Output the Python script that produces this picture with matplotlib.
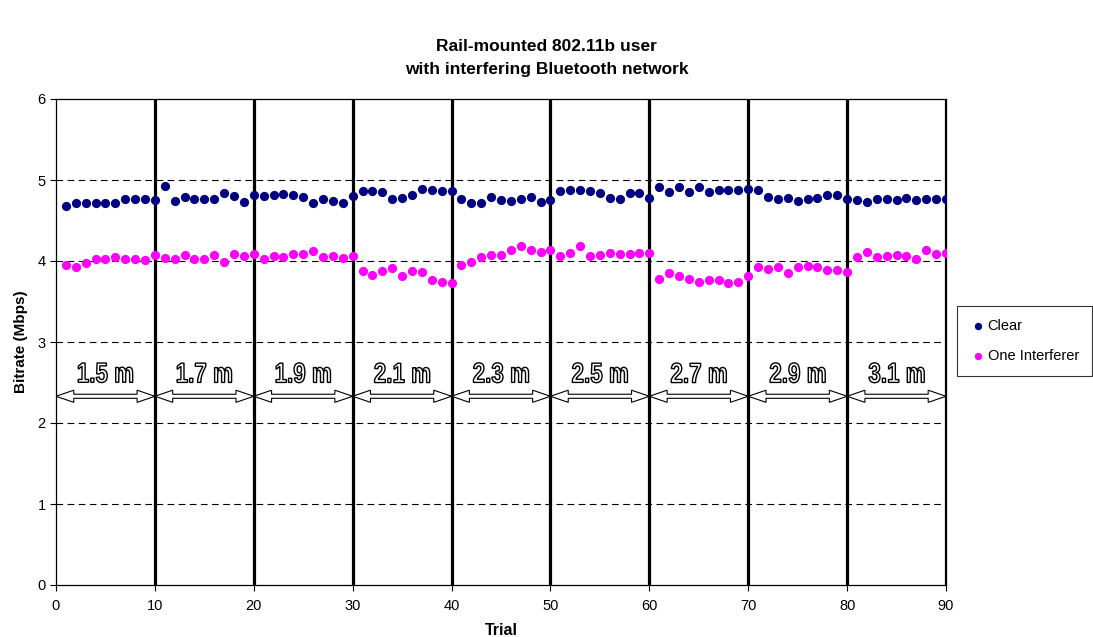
import matplotlib
matplotlib.use("Agg")
import matplotlib.pyplot as plt
import matplotlib.transforms as mtransforms
from matplotlib.patches import Polygon, PathPatch
from matplotlib.textpath import TextPath
from matplotlib.font_manager import FontProperties

plt.rcParams['font.family'] = ['Liberation Sans', 'DejaVu Sans']

trial = list(range(1, 91))

clear = [4.68, 4.71, 4.72, 4.72, 4.71, 4.72, 4.77, 4.76, 4.76, 4.75,
         4.92, 4.74, 4.79, 4.76, 4.76, 4.77, 4.84, 4.80, 4.73, 4.82,
         4.80, 4.81, 4.83, 4.82, 4.79, 4.72, 4.77, 4.74, 4.71, 4.80,
         4.86, 4.86, 4.85, 4.77, 4.78, 4.81, 4.89, 4.88, 4.86, 4.87,
         4.76, 4.71, 4.71, 4.79, 4.75, 4.74, 4.77, 4.79, 4.73, 4.75,
         4.87, 4.88, 4.88, 4.86, 4.84, 4.78, 4.77, 4.84, 4.84, 4.78,
         4.91, 4.85, 4.91, 4.85, 4.91, 4.85, 4.88, 4.88, 4.88, 4.89,
         4.88, 4.79, 4.77, 4.78, 4.74, 4.77, 4.78, 4.82, 4.81, 4.77,
         4.75, 4.73, 4.77, 4.77, 4.75, 4.78, 4.75, 4.77, 4.77, 4.77]

interferer = [3.95, 3.92, 3.98, 4.03, 4.02, 4.05, 4.02, 4.02, 4.01, 4.08,
              4.04, 4.02, 4.07, 4.02, 4.03, 4.07, 3.99, 4.09, 4.06, 4.09,
              4.03, 4.06, 4.05, 4.09, 4.09, 4.12, 4.05, 4.06, 4.04, 4.06,
              3.88, 3.83, 3.88, 3.91, 3.81, 3.88, 3.86, 3.77, 3.74, 3.73,
              3.95, 3.99, 4.05, 4.08, 4.07, 4.13, 4.19, 4.13, 4.11, 4.14,
              4.06, 4.10, 4.18, 4.06, 4.07, 4.10, 4.09, 4.09, 4.10, 4.10,
              3.78, 3.85, 3.81, 3.78, 3.74, 3.77, 3.77, 3.73, 3.74, 3.82,
              3.93, 3.90, 3.93, 3.85, 3.93, 3.94, 3.93, 3.89, 3.89, 3.86,
              4.05, 4.11, 4.05, 4.06, 4.07, 4.06, 4.03, 4.14, 4.09, 4.10]

distances = ["1.5 m", "1.7 m", "1.9 m", "2.1 m", "2.3 m", "2.5 m", "2.7 m", "2.9 m", "3.1 m"]
seg_edges = [0, 10, 20, 30, 40, 50, 60, 70, 80, 90]

fig = plt.figure(figsize=(10.93, 6.37), dpi=100)
ax = fig.add_axes([56 / 1093, 1 - 585 / 637, 890 / 1093, 486 / 637])

ax.set_xlim(0, 90)
ax.set_ylim(0, 6)
ax.set_xticks(range(0, 91, 10))
ax.set_yticks(range(0, 7))
ax.tick_params(direction='out', length=4, width=0.8, labelsize=10.5)
ax.tick_params(axis='x', pad=6)

for y in range(1, 6):
    ax.axhline(y, color='black', lw=0.8, ls=(0, (6, 4)), zorder=1)
for x in seg_edges[1:]:
    ax.axvline(x, color='black', lw=2.3, zorder=2)

for s in ax.spines.values():
    s.set_linewidth(0.9)

ax.scatter(trial, clear, s=44, color='#000080', label='Clear', zorder=4, linewidths=0)
ax.scatter(trial, interferer, s=44, color='#FF00FF', label='One Interferer', zorder=4, linewidths=0)

# distance labels: hollow double-headed arrows + outlined condensed text
arrow_y = 2.33
shaft = 0.025
head = 0.075
head_len = 1.8
fp = FontProperties(family='Liberation Sans', weight='bold')
for i, label in enumerate(distances):
    x0, x1 = seg_edges[i], seg_edges[i + 1]
    pts = [(x0, arrow_y), (x0 + head_len, arrow_y + head), (x0 + head_len, arrow_y + shaft),
           (x1 - head_len, arrow_y + shaft), (x1 - head_len, arrow_y + head), (x1, arrow_y),
           (x1 - head_len, arrow_y - head), (x1 - head_len, arrow_y - shaft),
           (x0 + head_len, arrow_y - shaft), (x0 + head_len, arrow_y - head)]
    ax.add_patch(Polygon(pts, closed=True, facecolor='white', edgecolor='black', lw=0.8, zorder=3))

    tp = TextPath((0, 0), label, size=28, prop=fp)
    ext = tp.get_extents()
    cx = (ext.x0 + ext.x1) / 2
    cy = (ext.y0 + ext.y1) / 2
    tr = (mtransforms.Affine2D().translate(-cx, -cy).scale(0.8, 1.0)
          + mtransforms.ScaledTranslation((x0 + x1) / 2, 2.62, ax.transData))
    ax.add_patch(PathPatch(tp, transform=tr, facecolor='white', edgecolor='black',
                           lw=1.0, zorder=5))

ax.set_xlabel('Trial', fontsize=11.5, fontweight='bold', labelpad=7)
ax.set_ylabel('Bitrate (Mbps)', fontsize=11, fontweight='bold', labelpad=7)

fig.text(0.5, 1 - 58 / 637, 'Rail-mounted 802.11b user\nwith interfering Bluetooth network',
         ha='center', va='center', fontsize=12.5, fontweight='bold', linespacing=1.6)

leg = ax.legend(loc='center left', bbox_to_anchor=(957 / 1093, 1 - 341 / 637),
                bbox_transform=fig.transFigure, frameon=True, fancybox=False,
                edgecolor='black', fontsize=10.5, handletextpad=0.1, markerscale=0.8,
                borderpad=0.9, labelspacing=1.1, handlelength=1.1, borderaxespad=0)
leg.get_frame().set_linewidth(0.8)

fig.savefig('out.png', dpi=100)
